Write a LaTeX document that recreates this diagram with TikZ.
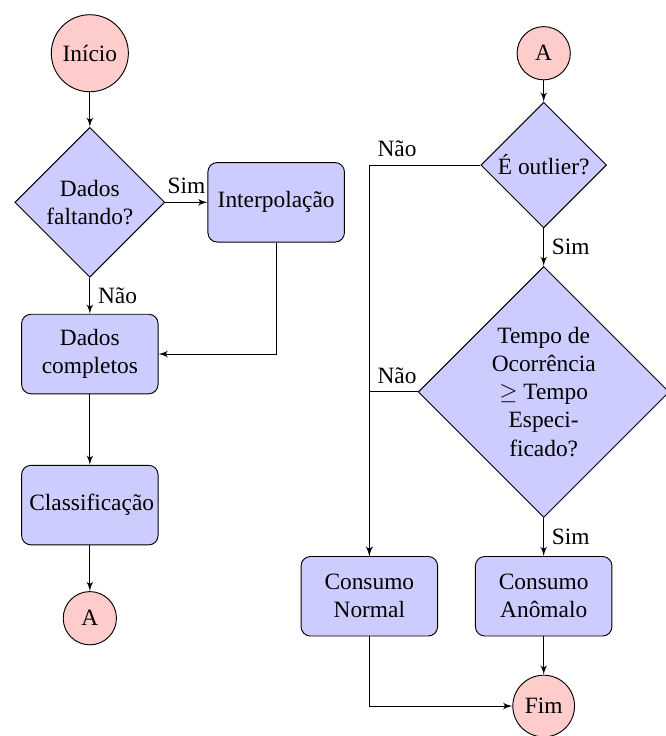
\documentclass[tikz,border=0pt]{standalone}
\usepackage{fontspec}
\setmainfont{Liberation Serif}
\usepackage{amsmath,amssymb}
\usetikzlibrary{shapes.geometric, arrows, positioning}

\begin{document}
\begin{tikzpicture}[node distance=22mm,
    bloco/.style={rectangle, draw, fill=blue!20, text width=51.7pt, text centered, rounded corners, minimum height=34pt},
    decisao/.style={diamond, draw, fill=blue!20, text width=4.5em, text badly centered, inner sep=0pt},
    terminal/.style={circle, draw, fill=red!20, minimum size=0.8cm},
    linha/.style={draw, -latex'}]
    \useasboundingbox (0,0) rectangle (10,-11.06);

    % coluna da esquerda
    \node[terminal] (inicio) at (1.35,-0.8) {Início};
    \node[decisao] (faltando) [below of=inicio, node distance=22.4mm] {Dados faltando?};
    \node[bloco] (interp) [right of=faltando, node distance=28mm] {Interpolação};
    \node[bloco] (completos) [below of=faltando, node distance=22.8mm] {Dados completos};
    \node[bloco] (classif) [below of=completos, node distance=22.7mm] {Classificação};
    \node[terminal] (conA) [below of=classif, node distance=17mm] {A};

    % coluna da direita
    \node[terminal] (conB) [right of=inicio, node distance=68.2mm] {A};
    \node[decisao] (outlier) [below of=conB, node distance=16.8mm] {É outlier?};
    \node[decisao, inner sep=1.8pt] (tempo) [below of=outlier, node distance=34.1mm] {Tempo de\\ Ocorrência\\ $\geq$ Tempo\\ Especi-\\ficado?};
    \node[bloco] (anomalo) [below of=tempo, node distance=30.7mm] {Consumo Anômalo};
    \node[bloco] (normal) [left of=anomalo, node distance=26.2mm] {Consumo Normal};
    \node[terminal] (fim) [below of=anomalo, node distance=16.5mm] {Fim};

    \path[linha]
    (inicio) edge (faltando)
    (faltando) edge node[above] {Sim} (interp)
    (faltando) edge node[right] {Não} (completos)
    (completos) edge (classif)
    (classif) edge (conA)
    (conB) edge (outlier)
    (outlier) edge node[right] {Sim} (tempo)
    (tempo) edge node[right] {Sim} (anomalo)
    (anomalo) edge (fim)
    ;
    \draw[linha] (interp.south) |- (completos.east);
    \draw[linha] (outlier.west) -| node[pos=0.5, above right] {Não} (normal.north);
    \draw[linha] (tempo.west) -| node[pos=0.5, above right] {Não} (normal.north);
    \draw[linha] (normal.south) |- (fim.west);
\end{tikzpicture}
\end{document}
